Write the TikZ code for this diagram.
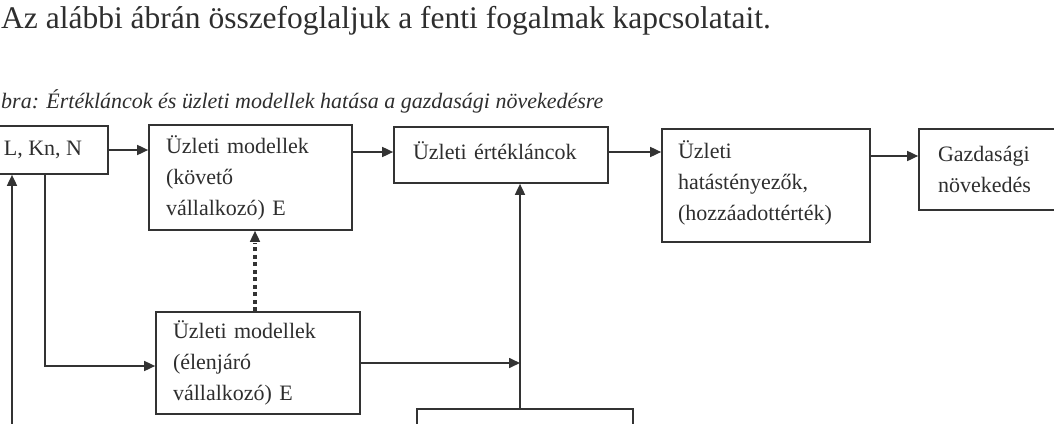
\documentclass[tikz,border=0pt]{standalone}
\usepackage{fontspec}
\setmainfont{Liberation Serif}
\usetikzlibrary{arrows.meta,calc}
\definecolor{linec}{HTML}{333333}
\definecolor{txtc}{HTML}{2E2E2E}
\tikzset{
  box/.style={draw=linec, line width=1.7pt, inner ysep=0pt, font=\fontsize{22}{31}\selectfont, text=txtc, align=left},
  arr/.style={draw=linec, line width=1.7pt, -{Triangle[length=11pt,width=10pt]}},
  dots/.style={draw=linec, line width=4pt, dash pattern=on 4pt off 3.5pt},
  headtxt/.style={anchor=base west, inner sep=0pt, text=txtc, font=\fontsize{31.5}{34}\selectfont},
  captxt/.style={anchor=base west, inner sep=0pt, text=txtc, font=\fontsize{22}{26}\selectfont\itshape}
}
\begin{document}
\begin{tikzpicture}[x=1pt,y=-1pt]
\useasboundingbox (0,0) rectangle (1054,423);
\clip (0,0) rectangle (1054,423);
\node[headtxt] (head) at (1,28) {Az alábbi ábrán összefoglaljuk a fenti fogalmak kapcsolatait.};
\node[captxt] (cap) at (1,108) {bra: Értékláncok és üzleti modellek hatása a gazdasági növekedésre};
% boxes
\node[box, align=center, minimum width=130pt, minimum height=48pt, inner xsep=0pt] (A) at (43,150) {L, Kn, N};
\node[box, minimum height=105pt, text width=169pt, inner xsep=17pt] (B) at (250.5,177.5) {Üzleti modellek\\(követő\\vállalkozó) E};
\node[box, minimum height=56pt, text width=176pt, inner xsep=19pt] (C) at (501,155) {Üzleti értékláncok\rule[-9pt]{0pt}{0pt}};
\node[box, minimum height=113pt, text width=176pt, inner xsep=16pt] (D) at (766,185.5) {Üzleti\\hatástényezők,\\(hozzáadottérték)\rule[-9pt]{0pt}{0pt}};
\node[box, minimum height=81pt, text width=133pt, inner xsep=19pt] (E) at (1004.5,169.5) {Gazdasági\\növekedés};
\node[box, minimum height=102pt, text width=170pt, inner xsep=17pt] (F) at (258,363) {Üzleti modellek\\(élenjáró\\vállalkozó) E};
\node[box, minimum width=216pt, minimum height=60pt, inner xsep=0pt] (G) at (525,439) {};
% helper coordinates
\coordinate (lb) at (12,430);
\coordinate (lk) at (45,174);
\coordinate (vj) at ([xshift=-5pt]G.north);
% connectors
\draw[arr] (A.east) -- (A.east -| B.west);
\draw[arr] ([yshift=3pt]C.west -| B.east) -- ([yshift=3pt]C.west);
\draw[arr] ([yshift=3pt]C.east) -- ([yshift=3pt]C.east -| D.west);
\draw[arr] ([yshift=13.5pt]E.west -| D.east) -- ([yshift=13.5pt]E.west);
\draw[arr] (lb) -- (lb |- A.south);
\draw[arr] (lk |- A.south) |- ([yshift=-3pt]F.west);
\draw[dots] ([xshift=-3pt]F.north) -- ([xshift=-3pt,yshift=-12pt]F.north |- B.south);
\draw[arr] ([xshift=-3pt,yshift=-9pt]F.north |- B.south) -- ([xshift=-3pt]F.north |- B.south);
\draw[arr] (F.east) -- (F.east -| vj);
\draw[arr] (vj) -- (vj |- C.south);
\end{tikzpicture}
\end{document}
